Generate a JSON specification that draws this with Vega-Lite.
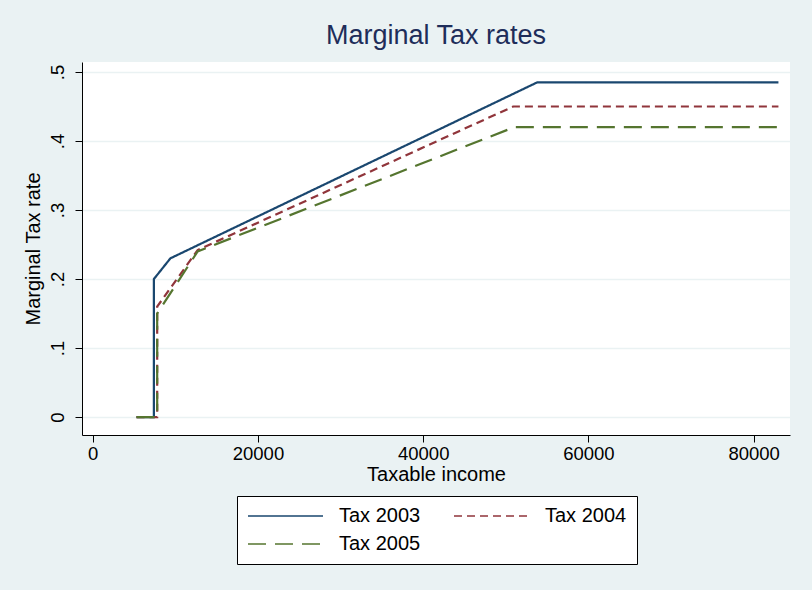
{
  "$schema": "https://vega.github.io/schema/vega-lite/v6.json",
  "autosize": {"type": "none"},
  "width": 708,
  "height": 373,
  "padding": {"left": 82, "right": 22, "top": 62, "bottom": 155},
  "background": "#EAF2F3",
  "config": {
    "font": "Liberation Sans",
    "view": {"fill": "white", "stroke": null}
  },
  "title": {
    "text": "Marginal Tax rates",
    "fontSize": 27,
    "fontWeight": "normal",
    "color": "#1E2D5A",
    "anchor": "middle",
    "offset": 12
  },
  "data": {
    "values": [
      {"series": "Tax 2003", "i": 1, "income": 5300, "rate": 0},
      {"series": "Tax 2003", "i": 2, "income": 7400, "rate": 0},
      {"series": "Tax 2003", "i": 3, "income": 7400, "rate": 0.2},
      {"series": "Tax 2003", "i": 4, "income": 9400, "rate": 0.23},
      {"series": "Tax 2003", "i": 5, "income": 53800, "rate": 0.485},
      {"series": "Tax 2003", "i": 6, "income": 83000, "rate": 0.485},
      {"series": "Tax 2004", "i": 1, "income": 5300, "rate": 0},
      {"series": "Tax 2004", "i": 2, "income": 7800, "rate": 0},
      {"series": "Tax 2004", "i": 3, "income": 7800, "rate": 0.16},
      {"series": "Tax 2004", "i": 4, "income": 12700, "rate": 0.242},
      {"series": "Tax 2004", "i": 5, "income": 50900, "rate": 0.45},
      {"series": "Tax 2004", "i": 6, "income": 83000, "rate": 0.45},
      {"series": "Tax 2005", "i": 1, "income": 5300, "rate": 0},
      {"series": "Tax 2005", "i": 2, "income": 7800, "rate": 0},
      {"series": "Tax 2005", "i": 3, "income": 7800, "rate": 0.15},
      {"series": "Tax 2005", "i": 4, "income": 12700, "rate": 0.24},
      {"series": "Tax 2005", "i": 5, "income": 51000, "rate": 0.42},
      {"series": "Tax 2005", "i": 6, "income": 83000, "rate": 0.42}
    ]
  },
  "mark": {"type": "line", "strokeWidth": 2.2, "clip": true},
  "encoding": {
    "x": {
      "field": "income",
      "type": "quantitative",
      "scale": {"domain": [-1300, 84400], "nice": false, "zero": false},
      "axis": {
        "title": "Taxable income",
        "values": [0, 20000, 40000, 60000, 80000],
        "format": "d",
        "grid": false,
        "domainColor": "black",
        "tickColor": "black",
        "tickSize": 7,
        "labelFontSize": 18.5,
        "labelColor": "black",
        "labelPadding": 2,
        "titleFontSize": 20,
        "titleFontWeight": "normal",
        "titleColor": "black",
        "titlePadding": 2
      }
    },
    "y": {
      "field": "rate",
      "type": "quantitative",
      "scale": {"domain": [-0.026, 0.5145], "nice": false, "zero": false},
      "axis": {
        "title": "Marginal Tax rate",
        "values": [0, 0.1, 0.2, 0.3, 0.4, 0.5],
        "labelExpr": "datum.value == 0 ? '0' : replace(format(datum.value, '.1f'), '0.', '.')",
        "grid": true,
        "gridColor": "#EAF2F3",
        "gridWidth": 1.5,
        "domainColor": "black",
        "tickColor": "black",
        "tickSize": 7,
        "labelAngle": -90,
        "labelAlign": "center",
        "labelBaseline": "bottom",
        "labelFontSize": 18.5,
        "labelColor": "black",
        "labelPadding": 8,
        "titleFontSize": 20,
        "titleFontWeight": "normal",
        "titleColor": "black",
        "titlePadding": 5
      }
    },
    "order": {"field": "i", "type": "quantitative"},
    "color": {
      "field": "series",
      "type": "nominal",
      "scale": {"domain": ["Tax 2003", "Tax 2004", "Tax 2005"], "range": ["#1A476F", "#90353B", "#55752F"]},
      "legend": {
        "title": null,
        "orient": "none",
        "legendX": 155,
        "legendY": 434,
        "direction": "horizontal",
        "columns": 2,
        "symbolType": "stroke",
        "symbolSize": 5625,
        "symbolStrokeWidth": 1.5,
        "clipHeight": 20,
        "labelFontSize": 20,
        "labelColor": "black",
        "labelOffset": 15,
        "columnPadding": 32,
        "rowPadding": 8,
        "padding": 10,
        "strokeColor": "black",
        "fillColor": "white",
        "labelLimit": 200
      }
    },
    "strokeDash": {
      "field": "series",
      "type": "nominal",
      "scale": {"domain": ["Tax 2003", "Tax 2004", "Tax 2005"], "range": [[1, 0], [8, 5], [18, 9]]},
      "legend": null
    }
  }
}
